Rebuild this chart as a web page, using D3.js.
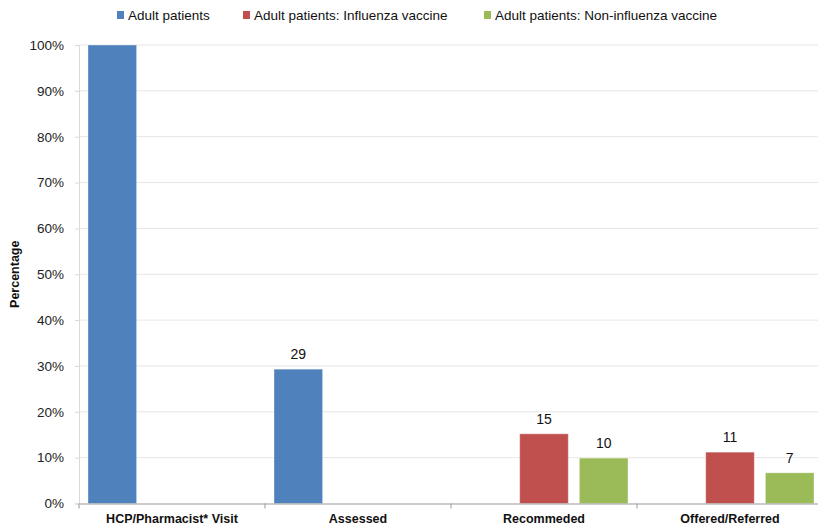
<!DOCTYPE html>
<html><head><meta charset="utf-8">
<script src="https://cdn.jsdelivr.net/npm/d3@7"></script>
<style>body{margin:0;background:#fff}svg{display:block;font-family:"Liberation Sans",Arial,sans-serif}</style>
</head><body><svg id="c" width="818" height="532"></svg>
<script>
const categories = ["HCP/Pharmacist* Visit", "Assessed", "Recommeded", "Offered/Referred"];
const seriesNames = ["Adult patients", "Adult patients: Influenza vaccine", "Adult patients: Non-influenza vaccine"];
const seriesColors = ["#4F81BD", "#C0504D", "#9BBB59"];
const adultPatients = [100, 29.3, null, null];
const influenzaVaccine = [null, null, 15.2, 11.2];
const nonInfluenzaVaccine = [null, null, 9.9, 6.7];
const dataLabels = [[null, "29", null, null], [null, null, "15", "11"], [null, null, "10", "7"]];
const yTicks = [0, 10, 20, 30, 40, 50, 60, 70, 80, 90, 100];

(function () {
const series = [adultPatients, influenzaVaccine, nonInfluenzaVaccine];
const svg = d3.select("#c");
const pLeft = 79, pRight = 823, pTop = 45, pBottom = 503.5;

const x0 = d3.scaleBand().domain(categories).range([pLeft, pRight]).padding(0);
const x1 = d3.scaleBand().domain(d3.range(3)).range([0, x0.bandwidth()]).paddingInner(0.186).paddingOuter(0.151);
const y = d3.scaleLinear().domain([0, 100]).range([pBottom, pTop]);

// gridlines
svg.append("g").selectAll("line").data(yTicks.filter(d => d > 0)).join("line")
  .attr("x1", pLeft).attr("x2", pRight).attr("y1", d => y(d)).attr("y2", d => y(d))
  .attr("stroke", "#e6e6e6").attr("stroke-width", 1);

// y axis
const yAxis = svg.append("g").attr("transform", `translate(${pLeft},0)`)
  .call(d3.axisLeft(y).tickValues(yTicks).tickFormat(d => d + "%").tickSize(4).tickPadding(11));
yAxis.select(".domain").attr("stroke", "#d9d9d9");
yAxis.selectAll(".tick line").attr("stroke", "#d9d9d9");
yAxis.selectAll("text").attr("font-size", 13.5).attr("fill", "#222").attr("font-family", "Liberation Sans, Arial, sans-serif");

// bars
const groups = svg.append("g").selectAll("g").data(series).join("g").attr("fill", (d, i) => seriesColors[i]);
groups.each(function (vals, si) {
  d3.select(this).selectAll("rect").data(categories.map((c, ci) => ({ c, v: vals[ci], si })).filter(d => d.v != null)).join("rect")
    .attr("x", d => x0(d.c) + x1(si)).attr("width", x1.bandwidth())
    .attr("y", d => y(d.v)).attr("height", d => y(0) - y(d.v))
    .attr("stroke", "rgba(255,255,255,0.35)").attr("stroke-width", 1);
});

// data labels
series.forEach((vals, si) => {
  svg.append("g").selectAll("text").data(categories.map((c, ci) => ({ c, v: vals[ci], l: dataLabels[si][ci] })).filter(d => d.l != null)).join("text")
    .attr("x", d => x0(d.c) + x1(si) + x1.bandwidth() / 2).attr("y", d => y(d.v) - 10)
    .attr("text-anchor", "middle").attr("font-size", 14).attr("fill", "#111").text(d => d.l);
});

// x axis
const xAxis = svg.append("g").attr("transform", `translate(0,${pBottom})`)
  .call(d3.axisBottom(x0).tickSize(0).tickPadding(11));
xAxis.select(".domain").attr("stroke", "#999");
xAxis.selectAll("text").attr("font-size", 12.5).attr("font-weight", "bold").attr("fill", "#111").attr("font-family", "Liberation Sans, Arial, sans-serif");
svg.append("g").selectAll("line").data(categories.concat(["end"])).join("line")
  .attr("x1", (d, i) => pLeft + i * x0.step()).attr("x2", (d, i) => pLeft + i * x0.step())
  .attr("y1", pBottom).attr("y2", pBottom + 5).attr("stroke", "#999");

// y title
svg.append("text").attr("transform", `translate(19,${(pTop + pBottom) / 2}) rotate(-90)`)
  .attr("text-anchor", "middle").attr("font-size", 12.5).attr("font-weight", "bold").attr("fill", "#111").text("Percentage");

// legend
const legendX = [117, 243, 484];
const lg = svg.append("g").selectAll("g").data(seriesNames).join("g").attr("transform", (d, i) => `translate(${legendX[i]},15)`);
lg.append("rect").attr("x", 0).attr("y", -4).attr("width", 7).attr("height", 8).attr("fill", (d, i) => seriesColors[i]);
lg.append("text").attr("x", 11).attr("y", 5).attr("font-size", 13.5).attr("fill", "#111").text(d => d);
})();
</script></body></html>
